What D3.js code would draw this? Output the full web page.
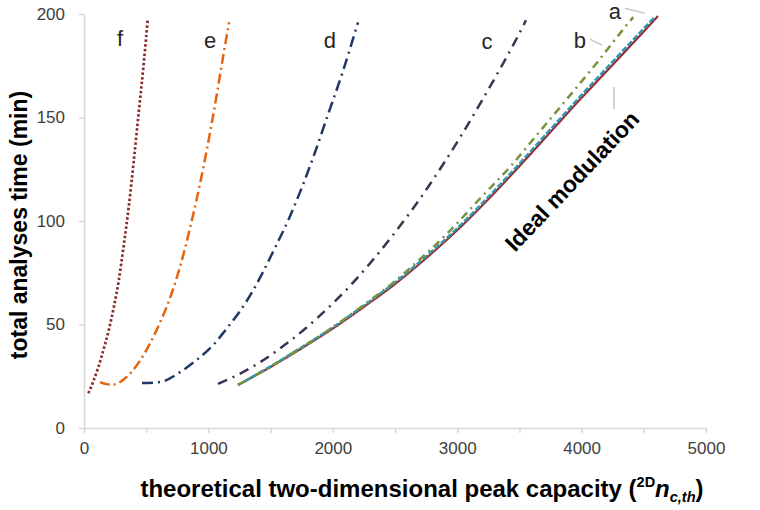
<html>
<head>
  <meta charset="utf-8">
  <title>analysis time vs peak capacity</title>
  <script src="https://cdn.jsdelivr.net/npm/d3@7"></script>
  <style>
    body {
      margin: 0;
      background: #fff;
    }

    text {
      font-family: "Liberation Sans", Arial, sans-serif;
    }
  </style>
</head>

<body>
  <div id="chart"></div>
  <script>
    const W = 760
    const H = 510

    // [peak capacity, time (min)]
    const ideal = [[1238, 20.8], [1500, 29.5], [1750, 38.5], [2000, 48], [2250, 58.5], [2500, 69.5], [2750, 82],
    [3000, 95.5], [3250, 110.5], [3500, 126.5], [3750, 143], [4000, 159.5], [4250, 175.5], [4500, 191.5], [4614, 199]]
    const curveA = [[1238, 20.8], [1500, 29.8], [1750, 39], [2000, 48.6], [2250, 59.2], [2500, 70.3], [2750, 82.9],
    [3000, 96.5], [3250, 111.6], [3500, 127.7], [3750, 144.3], [4000, 160.9], [4250, 177], [4500, 193], [4590, 198.7]]
    const curveB = [[1238, 20.8], [1495, 29.5], [1740, 38.5], [1985, 48], [2228, 58.5], [2470, 69.5], [2710, 82],
    [2945, 95.5], [3178, 110.5], [3430, 126.5], [3660, 143], [3890, 159.5], [4110, 175.5], [4320, 191.5], [4415, 198.5]]
    const curveC = [[1077, 21.3], [1240, 25.8], [1400, 31.2], [1550, 37.3], [1710, 44.6], [1860, 52.3], [2000, 60.2],
    [2150, 69.4], [2300, 79.6], [2460, 91.4], [2620, 104], [2770, 116.8], [2900, 128.6], [3050, 143], [3200, 158.3],
    [3340, 173], [3450, 185], [3553, 197]]
    const curveD = [[466, 21.7], [611, 22.2], [772, 27], [908, 33], [1037, 40], [1140, 47.5], [1254, 56.5], [1350, 65.5],
    [1440, 75.5], [1535, 87], [1650, 101.5], [1750, 116], [1850, 132], [1953, 150], [2074, 171], [2203, 196]]
    const curveE = [[129, 22.2], [180, 21.2], [233, 21], [300, 22.6], [370, 26.3], [450, 32.5], [530, 40.8], [610, 50.8],
    [680, 61], [740, 71.5], [800, 84], [850, 96], [900, 109], [960, 126], [1020, 145], [1070, 162], [1120, 180], [1166, 196]]
    const curveF = [[35, 16.8], [70, 21.8], [110, 28.5], [160, 38.5], [200, 47.5], [240, 58.5], [280, 71.5], [320, 88.5],
    [360, 107], [400, 129], [440, 152.5], [480, 176], [512, 197]]

    const xTicks = [0, 500, 1000, 1500, 2000, 2500, 3000, 3500, 4000, 4500, 5000]
    const yTicks = [0, 50, 100, 150, 200]

    // letter labels, in data units
    const labelText = ["a", "b", "c", "d", "e", "f"]
    const labelAt = [[4268, 201], [3987, 187.4], [3240, 186.5], [1977, 187.4], [1013, 187.4], [289, 188.4]]
    // grey leader lines for a, b and ideal
    const leaders = [[[4349, 202.8], [4510, 200.3]], [[4068, 187.9], [4164, 185]], [[4260, 164.7], [4260, 154.1]]]

    const series = [
      { d: ideal, color: "#9e2a2b", dash: null, w: 2.2 },
      { d: curveA, color: "#2f97b3", dash: "6,2", w: 2.5 },
      { d: curveB, color: "#77933c", dash: "8,5,2,5", w: 2.5 },
      { d: curveC, color: "#403152", dash: "10,6,2,6", w: 2.5 },
      { d: curveD, color: "#1f3864", dash: "11,5,2,5", w: 2.5 },
      { d: curveE, color: "#e4640f", dash: "10,4,2,4", w: 2.5 },
      { d: curveF, color: "#8b2a2a", dash: "2.5,2.2", w: 2.7 },
    ]

    let svg = d3.select("#chart").append("svg")
      .attr("width", W)
      .attr("height", H)

    let x = d3.scaleLinear().domain([0, 5000]).range([84, 706])
    let y = d3.scaleLinear().domain([0, 200]).range([428, 14])

    //axes
    let gx = svg.append("g")
      .attr("transform", `translate(0,${y(0)})`)
      .call(d3.axisBottom(x).tickValues(xTicks)
        .tickFormat(d => d % 1000 == 0 ? d : "")
        .tickSize(5).tickPadding(9).tickSizeOuter(0))
    let gy = svg.append("g")
      .attr("transform", `translate(${x(0)},0)`)
      .call(d3.axisLeft(y).tickValues(yTicks).tickSize(5).tickPadding(14).tickSizeOuter(0))

    svg.selectAll(".domain").attr("stroke", "#d9d9d9").attr("stroke-width", 1.6)
    svg.selectAll(".tick line").attr("stroke", "#d0d0d0").attr("stroke-width", 1.2)
    svg.selectAll(".tick text")
      .attr("fill", "#404040")
      .attr("font-size", "17px")
      .attr("font-family", "Liberation Sans, Arial, sans-serif")

    //curves
    let line = d3.line()
      .x(d => x(d[0]))
      .y(d => y(d[1]))
      .curve(d3.curveMonotoneX)

    svg.append("g").selectAll("path").data(series).join("path")
      .attr("d", s => line(s.d))
      .attr("fill", "none")
      .attr("stroke", s => s.color)
      .attr("stroke-width", s => s.w)
      .attr("stroke-dasharray", s => s.dash)

    //leader lines
    svg.append("g").selectAll("line").data(leaders).join("line")
      .attr("x1", d => x(d[0][0]))
      .attr("y1", d => y(d[0][1]))
      .attr("x2", d => x(d[1][0]))
      .attr("y2", d => y(d[1][1]))
      .attr("stroke", "#c4c4c4")
      .attr("stroke-width", 1.5)

    //letters
    svg.append("g").selectAll("text").data(labelText).join("text")
      .attr("x", (d, i) => x(labelAt[i][0]))
      .attr("y", (d, i) => y(labelAt[i][1]))
      .attr("text-anchor", "middle")
      .attr("dominant-baseline", "central")
      .attr("font-size", "22px")
      .attr("fill", "#262626")
      .text(d => d)

    svg.append("text")
      .attr("transform", `translate(${x(3923)},${y(119.3)}) rotate(-46.5)`)
      .attr("text-anchor", "middle")
      .attr("dominant-baseline", "central")
      .attr("font-size", "23px")
      .attr("font-weight", "bold")
      .attr("fill", "#000")
      .text("Ideal modulation")

    //axis titles
    svg.append("text")
      .attr("transform", `translate(19,${(y(0) + y(200)) / 2 + 4}) rotate(-90)`)
      .attr("text-anchor", "middle")
      .attr("dominant-baseline", "central")
      .attr("font-size", "23px")
      .attr("font-weight", "bold")
      .attr("fill", "#000")
      .text("total analyses time (min)")

    let xt = svg.append("text")
      .attr("x", 422)
      .attr("y", 497)
      .attr("text-anchor", "middle")
      .attr("font-size", "24px")
      .attr("font-weight", "bold")
      .attr("fill", "#000")
    xt.append("tspan").text("theoretical two-dimensional peak capacity (")
    xt.append("tspan").attr("font-size", "14.5px").attr("dy", -10).text("2D")
    xt.append("tspan").attr("font-style", "italic").attr("dy", 10).text("n")
    xt.append("tspan").attr("font-size", "14.5px").attr("font-style", "italic").attr("dy", 5).text("c,th")
    xt.append("tspan").attr("dy", -5).text(")")
  </script>
</body>

</html>
